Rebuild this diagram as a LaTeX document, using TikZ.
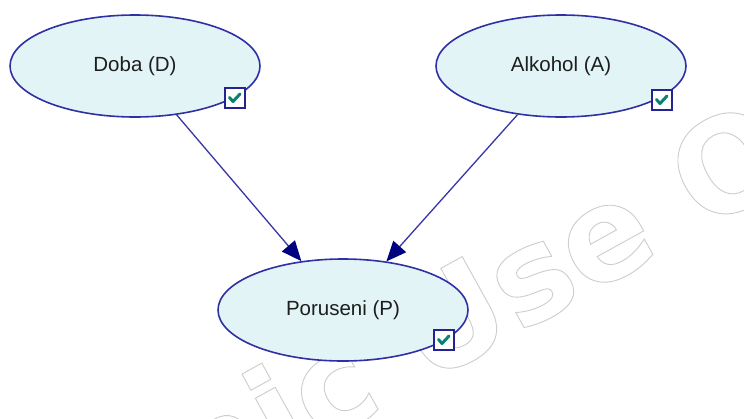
\documentclass[tikz,border=0pt]{standalone}
\usepackage{fontspec}
\setmainfont{Liberation Sans}
\newfontfamily\wmfont{DejaVu Sans}
\usetikzlibrary{arrows.meta,shapes.geometric}

\definecolor{nodefill}{RGB}{226,244,246}
\definecolor{nodeline}{RGB}{48,48,165}
\definecolor{edgeline}{RGB}{55,55,165}
\definecolor{tipnavy}{RGB}{0,0,128}
\definecolor{checkteal}{RGB}{10,130,115}
\definecolor{boxline}{RGB}{35,35,145}
\definecolor{wmgray}{RGB}{205,205,205}
\definecolor{labeltext}{RGB}{30,30,30}

% stroked (outline) text via the PDF text render mode
\newcommand\outlinetext[1]{\special{pdf:literal direct 1 Tr 0.9 w}#1\special{pdf:literal direct 0 Tr}}

\tikzset{
  varnode/.style={ellipse, draw=nodeline, line width=1.6pt, fill=nodefill,
    minimum width=250pt, minimum height=102pt, inner sep=0pt,
    text=labeltext, font=\fontsize{20.5}{24}\selectfont},
  edge/.style={draw=edgeline, line width=1.3pt,
    -{Triangle[length=20pt,width=17pt,color=tipnavy]}},
  checkbox/.style={rectangle, draw=boxline, line width=1.8pt, fill=white,
    minimum size=20pt, inner sep=0pt,
    path picture={\draw[checkteal, line width=3pt, line cap=round, line join=round]
      ([shift={(-5.5pt,0.5pt)}]path picture bounding box.center)
      -- ++(3.5pt,-4pt) -- ++(7pt,7.5pt);}},
  wm/.style={anchor=base west, rotate=29, inner sep=0pt, text=wmgray,
    font=\wmfont\bfseries\fontsize{130}{130}\selectfont}
}

\begin{document}
\begin{tikzpicture}[x=1pt,y=-1pt]
\useasboundingbox (0,0) rectangle (744,418);
\fill[white] (0,0) rectangle (744,418);

% watermark
\begin{scope}
  \clip (0,0) rectangle (744,418);
  \node[wm] (wm) at (426,385) {\outlinetext{\llap{Academic }Use Only}};
\end{scope}

% variables
\node[varnode] (D) at (135,66) {Doba (D)};
\node[varnode] (A) at (561,66) {Alkohol (A)};
\node[varnode] (P) at (343,310) {Poruseni (P)};

% arcs
\draw[edge] (D) -- (P);
\draw[edge] (A) -- (P);

% check boxes
\node[checkbox] (cD) at (235,98) {};
\node[checkbox] (cA) at (662,100) {};
\node[checkbox] (cP) at (444,340) {};
\end{tikzpicture}
\end{document}
